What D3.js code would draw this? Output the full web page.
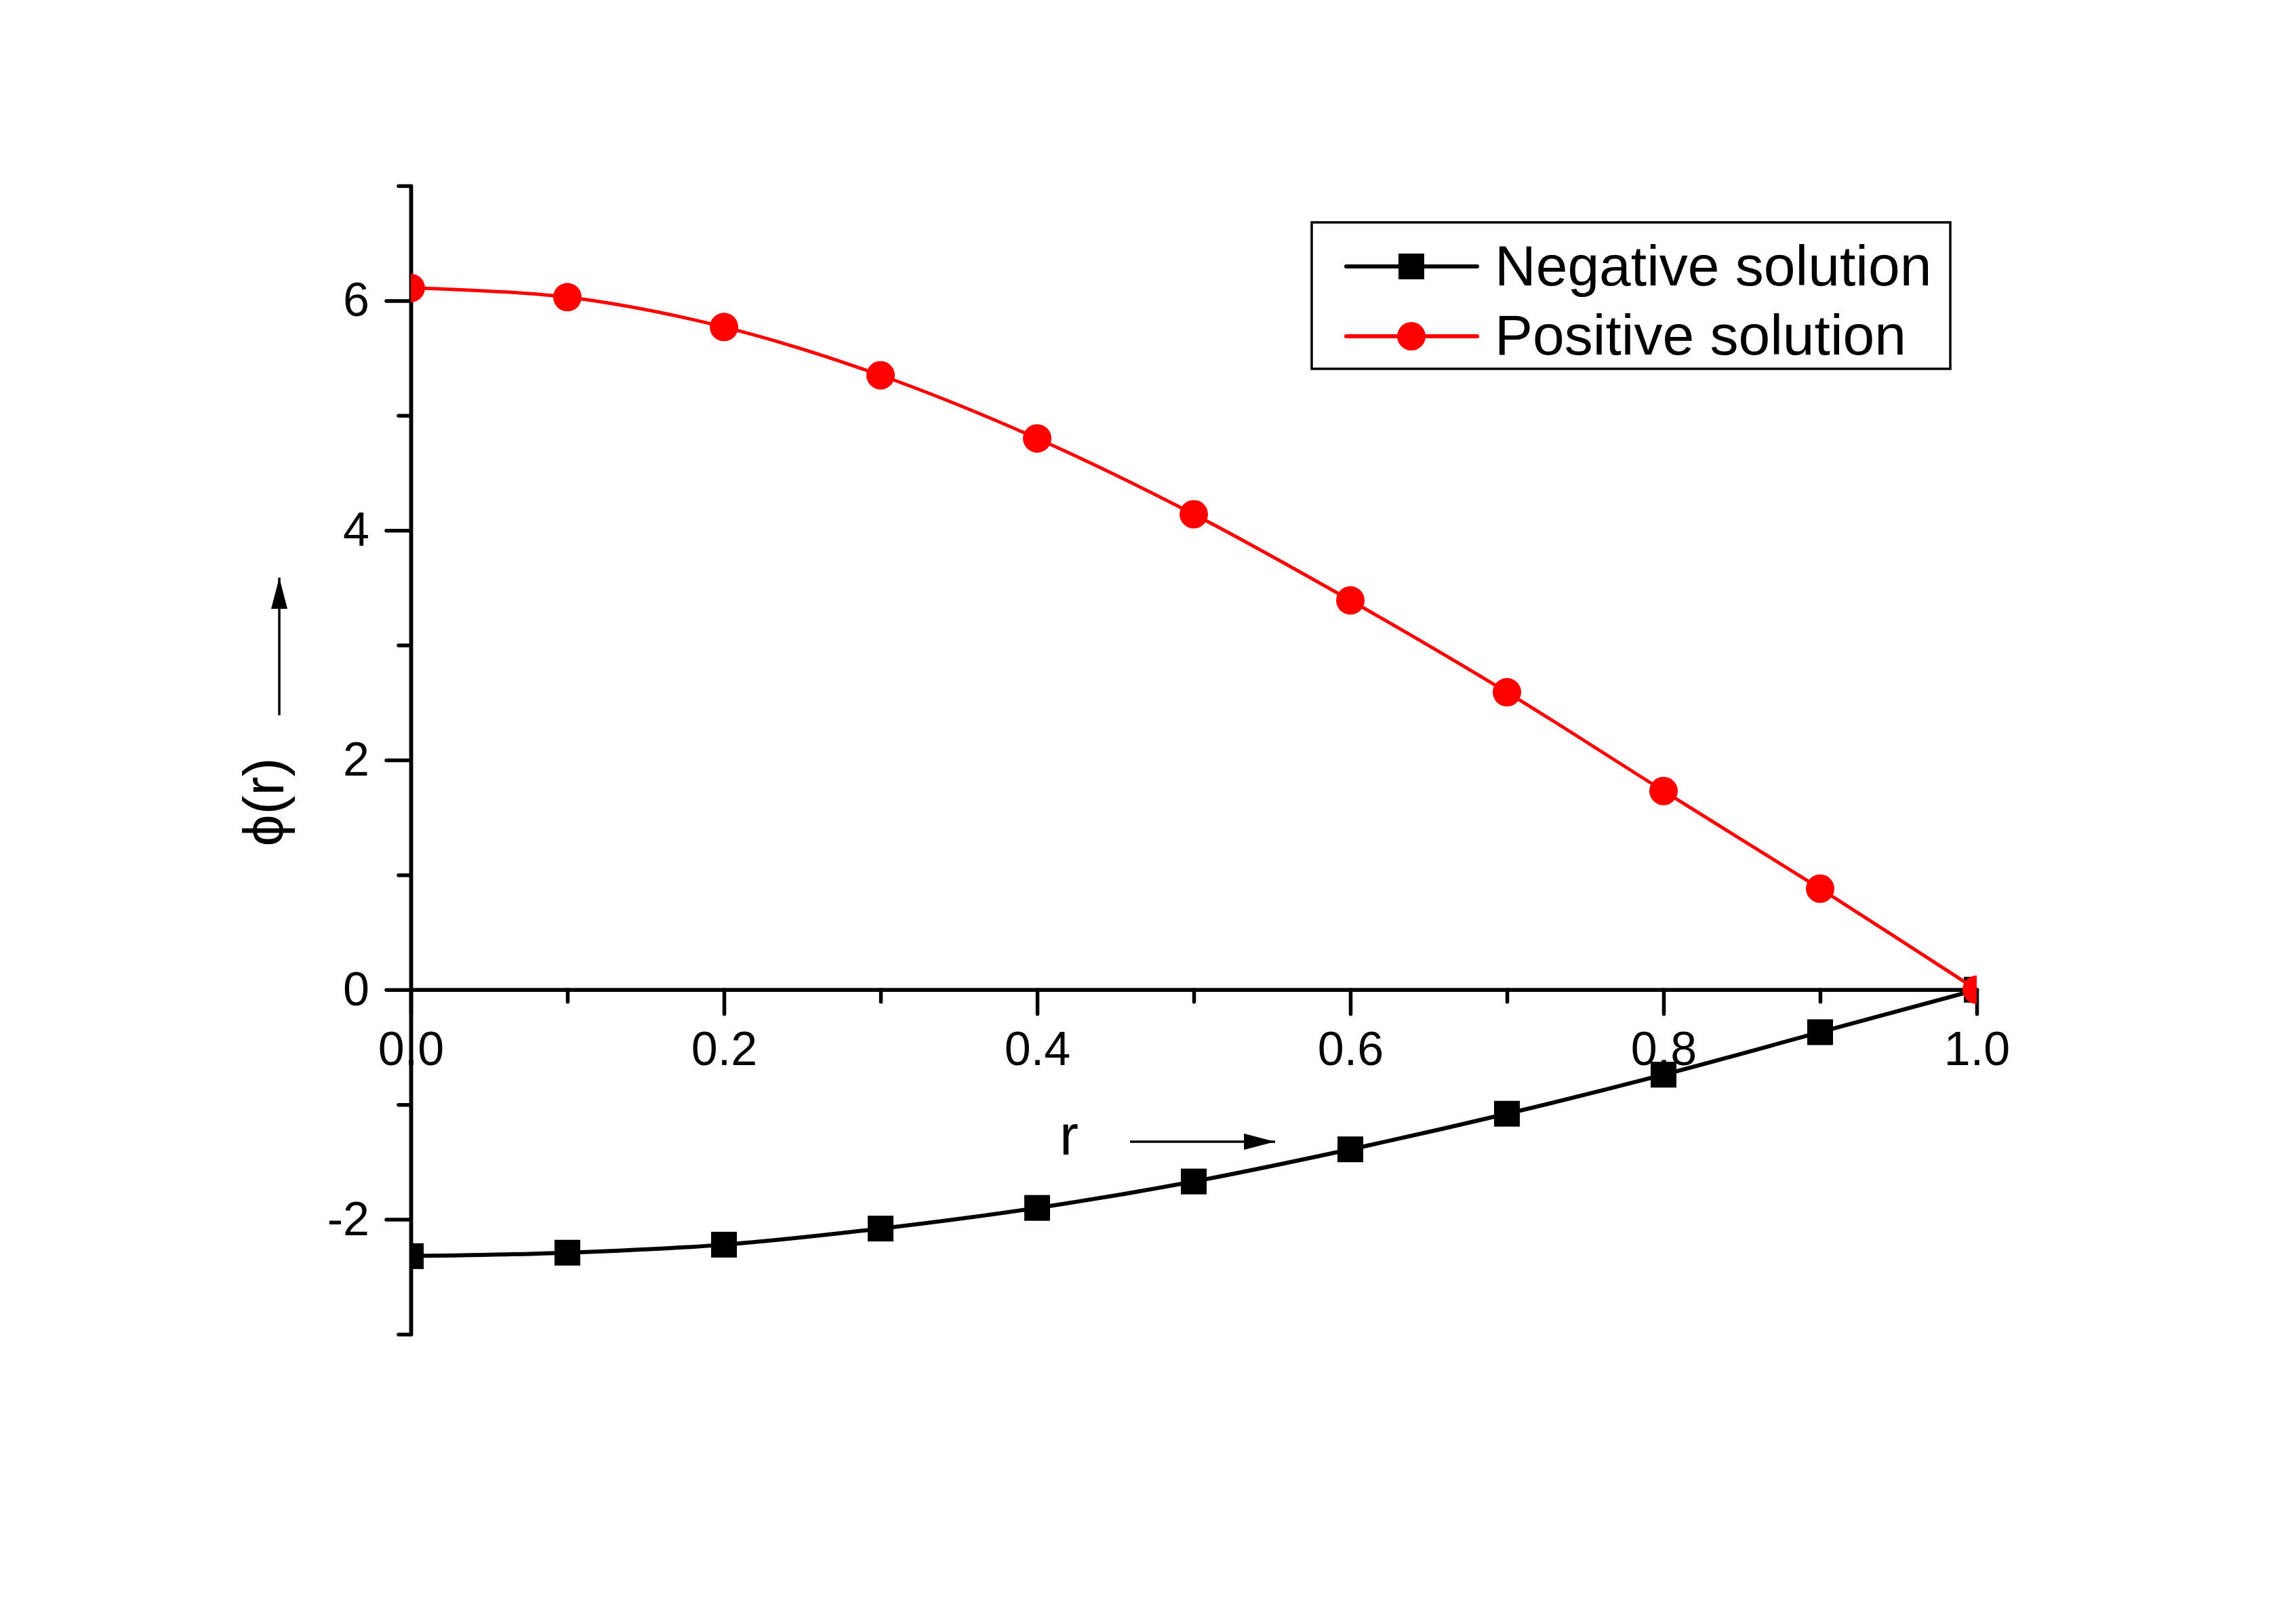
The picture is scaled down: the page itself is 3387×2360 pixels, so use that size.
<!DOCTYPE html>
<html>
<head>
<meta charset="utf-8">
<script src="https://cdn.jsdelivr.net/npm/d3@7"></script>
<style>
  body { margin: 0; background: #fff; }
  text { font-family: "Liberation Sans", Arial, sans-serif; fill: #000; }
  .axis path, .axis line { stroke: #000; stroke-width: 5.5; stroke-linecap: round; }
</style>
</head>
<body>
<div class="chart"></div>
<script>
// r values (shared by both series)
const rValues = [0, 0.1, 0.2, 0.3, 0.4, 0.5, 0.6, 0.7, 0.8, 0.9, 1.0];
// phi(r)
const negativeValues = [-2.32, -2.29, -2.22, -2.08, -1.90, -1.67, -1.39, -1.08, -0.74, -0.37, 0];
const positiveValues = [6.11, 6.03, 5.77, 5.35, 4.80, 4.14, 3.39, 2.59, 1.73, 0.88, 0];

const xMajorTicks = [0, 0.2, 0.4, 0.6, 0.8, 1.0];
const xMinorTicks = [0.1, 0.3, 0.5, 0.7, 0.9];
const yMajorTicks = [-2, 0, 2, 4, 6];
const yMinorTicks = [-3, -1, 1, 3, 5, 7];

const seriesNames = ['Negative solution', 'Positive solution'];

const W = 3387, H = 2360;

const x = d3.scaleLinear().domain([0, 1]).range([606, 2916]);
const y = d3.scaleLinear().domain([-3, 7]).range([1968, 274]);

const svg = d3.select('.chart')
  .append('svg')
  .attr('width', W)
  .attr('height', H);

svg.append('defs').append('clipPath').attr('id', 'plotClip')
  .append('rect')
  .attr('x', x(0)).attr('y', y(7))
  .attr('width', x(1) - x(0)).attr('height', y(-3) - y(7));

// axes: minor ticks first, then major with labels (plain hyphen for negatives)
const yMinor = d3.axisLeft(y).tickValues(yMinorTicks).tickSize(18).tickSizeOuter(0).tickFormat('');
const yMajor = d3.axisLeft(y).tickValues(yMajorTicks).tickSize(36).tickSizeOuter(0).tickPadding(25).tickFormat((d) => String(d));
const xMinor = d3.axisBottom(x).tickValues(xMinorTicks).tickSize(18).tickSizeOuter(0).tickFormat('');
const xMajor = d3.axisBottom(x).tickValues(xMajorTicks).tickSize(36).tickSizeOuter(0).tickPadding(26).tickFormat((d) => d.toFixed(1));

[yMinor, yMajor].forEach((ax) => {
  svg.append('g').attr('class', 'axis')
    .attr('transform', `translate(${x(0)},0)`)
    .call(ax);
});
[xMinor, xMajor].forEach((ax) => {
  svg.append('g').attr('class', 'axis')
    .attr('transform', `translate(0,${y(0)})`)
    .call(ax);
});
svg.selectAll('.axis text')
  .style('font-size', '70px')
  .attr('fill', '#000');
svg.selectAll('.axis .domain').attr('fill', 'none');

// series
const negData = rValues.map((r, i) => ({ r: r, v: negativeValues[i] }));
const posData = rValues.map((r, i) => ({ r: r, v: positiveValues[i] }));

const line = d3.line()
  .x((d) => x(d.r))
  .y((d) => y(d.v))
  .curve(d3.curveCatmullRom);

const plot = svg.append('g').attr('clip-path', 'url(#plotClip)');

plot.append('path')
  .datum(negData)
  .attr('d', line)
  .attr('fill', 'none')
  .attr('stroke', '#000')
  .attr('stroke-width', 6);

plot.selectAll('rect.neg')
  .data(negData)
  .enter()
  .append('rect')
  .attr('class', 'neg')
  .attr('x', (d) => x(d.r) - 19)
  .attr('y', (d) => y(d.v) - 19)
  .attr('width', 38)
  .attr('height', 38)
  .attr('fill', '#000');

plot.append('path')
  .datum(posData)
  .attr('d', line)
  .attr('fill', 'none')
  .attr('stroke', '#ff0000')
  .attr('stroke-width', 5);

plot.selectAll('circle.pos')
  .data(posData)
  .enter()
  .append('circle')
  .attr('class', 'pos')
  .attr('cx', (d) => x(d.r))
  .attr('cy', (d) => y(d.v))
  .attr('r', 21)
  .attr('fill', '#ff0000');

// arrow heads
const defs = svg.select('defs');
defs.append('marker')
  .attr('id', 'arrowHead')
  .attr('viewBox', '0 0 46 24')
  .attr('refX', 46).attr('refY', 12)
  .attr('markerWidth', 46).attr('markerHeight', 24)
  .attr('markerUnits', 'userSpaceOnUse')
  .attr('orient', 'auto')
  .append('path')
  .attr('d', 'M0,0 L46,12 L0,24 Z')
  .attr('fill', '#000');

// y axis title
svg.append('text')
  .attr('transform', 'translate(418,1183) rotate(-90)')
  .attr('text-anchor', 'middle')
  .style('font-size', '84px')
  .text('ϕ(r)');

svg.append('line')
  .attr('x1', 412).attr('y1', 1055)
  .attr('x2', 412).attr('y2', 852)
  .attr('stroke', '#000').attr('stroke-width', 3.5)
  .attr('marker-end', 'url(#arrowHead)');

// x axis title
svg.append('text')
  .attr('x', 1577).attr('y', 1703)
  .attr('text-anchor', 'middle')
  .style('font-size', '84px')
  .text('r');

svg.append('line')
  .attr('x1', 1667).attr('y1', 1684)
  .attr('x2', 1881).attr('y2', 1684)
  .attr('stroke', '#000').attr('stroke-width', 3.5)
  .attr('marker-end', 'url(#arrowHead)');

// legend
const legend = svg.append('g');
legend.append('rect')
  .attr('x', 1935).attr('y', 328)
  .attr('width', 942).attr('height', 216)
  .attr('fill', '#fff')
  .attr('stroke', '#000')
  .attr('stroke-width', 3.5);

const legendRows = [
  { name: seriesNames[0], color: '#000', shape: 'square', cy: 393, base: 421 },
  { name: seriesNames[1], color: '#ff0000', shape: 'circle', cy: 496, base: 523 }
];

legendRows.forEach((row) => {
  legend.append('line')
    .attr('x1', 1986).attr('x2', 2179)
    .attr('y1', row.cy).attr('y2', row.cy)
    .attr('stroke', row.color)
    .attr('stroke-width', 6)
    .attr('stroke-linecap', 'round');
  if (row.shape === 'square') {
    legend.append('rect')
      .attr('x', 2082 - 19).attr('y', row.cy - 19)
      .attr('width', 38).attr('height', 38)
      .attr('fill', row.color);
  } else {
    legend.append('circle')
      .attr('cx', 2082).attr('cy', row.cy)
      .attr('r', 21)
      .attr('fill', row.color);
  }
  legend.append('text')
    .attr('x', 2205).attr('y', row.base)
    .style('font-size', '84px')
    .text(row.name);
});
</script>
</body>
</html>
